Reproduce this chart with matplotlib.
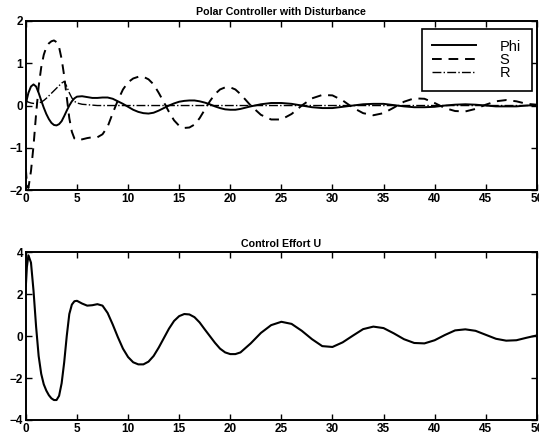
import numpy as np
import matplotlib
matplotlib.use('Agg')
from matplotlib import pyplot as plt

plt.rcParams['font.family'] = ['Liberation Sans', 'DejaVu Sans']

# time samples
t = [0, 0.1, 0.25, 0.5, 0.75, 1.0, 1.25, 1.5, 1.75, 2.0, 2.25, 2.5, 2.75, 3.0, 3.25,
     3.5, 3.75, 4.0, 4.25, 4.5, 4.75, 5.0, 5.5, 6.0, 6.5, 7.0, 7.5, 8.0, 8.5, 9.0,
     9.5, 10, 10.5, 11, 11.5, 12, 12.5, 13, 13.5, 14, 14.5, 15, 15.5, 16, 16.5, 17,
     17.5, 18, 18.5, 19, 19.5, 20, 20.5, 21, 22, 23, 24, 25, 26, 27, 28, 29, 30, 31,
     32, 33, 34, 35, 36, 37, 38, 39, 40, 41, 42, 43, 44, 45, 46, 47, 48, 49, 50]

phi = [0.0, 0.15, 0.3, 0.45, 0.5, 0.45, 0.3, 0.12, -0.05, -0.2, -0.32, -0.41, -0.46, -0.47, -0.44,
       -0.37, -0.25, -0.12, 0.0, 0.1, 0.17, 0.21, 0.22, 0.2, 0.18, 0.18, 0.19, 0.19, 0.16, 0.1,
       0.04, -0.03, -0.1, -0.15, -0.18, -0.19, -0.17, -0.12, -0.06, 0.0, 0.05, 0.09, 0.11, 0.12, 0.12, 0.1,
       0.07, 0.03, -0.02, -0.06, -0.09, -0.1, -0.1, -0.08, -0.02, 0.03, 0.06, 0.06, 0.04, 0.0, -0.04, -0.06, -0.06, -0.03,
       0.0, 0.03, 0.04, 0.04, 0.01, -0.02, -0.04, -0.04, -0.03, 0.0, 0.02, 0.03, 0.02, 0.0, -0.02, -0.02, -0.02, 0.0, 0.01]

S = [-1.5, -1.85, -1.95, -1.55, -0.95, -0.2, 0.45, 0.9, 1.2, 1.38, 1.47, 1.52, 1.54, 1.5, 1.38,
     1.1, 0.7, 0.2, -0.3, -0.62, -0.78, -0.82, -0.8, -0.77, -0.75, -0.75, -0.68, -0.5, -0.18, 0.12,
     0.38, 0.55, 0.64, 0.68, 0.68, 0.62, 0.5, 0.3, 0.08, -0.15, -0.35, -0.48, -0.53, -0.52, -0.45, -0.3,
     -0.1, 0.1, 0.27, 0.38, 0.43, 0.43, 0.38, 0.27, 0.0, -0.22, -0.33, -0.33, -0.2, 0.0, 0.17, 0.25, 0.24, 0.12,
     -0.05, -0.18, -0.23, -0.18, -0.05, 0.09, 0.17, 0.16, 0.06, -0.06, -0.13, -0.14, -0.08, 0.02, 0.1, 0.13, 0.1, 0.04, 0.02]

R = [0.12, 0.1, 0.08, 0.06, 0.05, 0.05, 0.06, 0.08, 0.12, 0.17, 0.23, 0.29, 0.35, 0.41, 0.47,
     0.53, 0.57, 0.45, 0.3, 0.18, 0.1, 0.06, 0.03, 0.02, 0.01, 0.0, 0.0, 0.0, 0.0, 0.0,
     0.0, 0.0, 0.0, 0.0, 0.0, 0.0, 0.0, 0.0, 0.0, 0.0, 0.0, 0.0, 0.0, 0.0, 0.0, 0.0,
     0.0, 0.0, 0.0, 0.0, 0.0, 0.0, 0.0, 0.0, 0.0, 0.0, 0.0, 0.0, 0.0, 0.0, 0.0, 0.0, 0.0, 0.0,
     0.0, 0.0, 0.0, 0.0, 0.0, 0.0, 0.0, 0.0, 0.0, 0.0, 0.0, 0.0, 0.0, 0.0, 0.0, 0.0, 0.0, 0.0, 0.0]

U = [2.4, 3.3, 3.85, 3.5, 2.15, 0.45, -0.95, -1.8, -2.3, -2.6, -2.82, -2.97, -3.05, -3.05, -2.85,
     -2.25, -1.25, 0.0, 1.05, 1.5, 1.66, 1.68, 1.55, 1.45, 1.47, 1.52, 1.45, 1.1, 0.55, -0.05,
     -0.6, -1.0, -1.25, -1.35, -1.35, -1.22, -0.95, -0.55, -0.1, 0.35, 0.72, 0.95, 1.05, 1.03, 0.9, 0.65,
     0.32, 0.0, -0.32, -0.6, -0.78, -0.86, -0.86, -0.78, -0.35, 0.15, 0.52, 0.68, 0.58, 0.25, -0.15, -0.48, -0.52, -0.3,
     0.02, 0.33, 0.45, 0.38, 0.13, -0.15, -0.33, -0.35, -0.2, 0.05, 0.27, 0.32, 0.25, 0.06, -0.13, -0.22, -0.2, -0.08, 0.03]

xticks = [0, 5, 10, 15, 20, 25, 30, 35, 40, 45, 50]

fig = plt.figure(figsize=(5.39, 4.37), dpi=100)
ax1 = fig.add_axes([0.048, 0.565, 0.948, 0.387])
ax2 = fig.add_axes([0.048, 0.039, 0.948, 0.384])

ax1.plot(t, phi, 'k-', lw=1.4, label='Phi')
ax1.plot(t, S, 'k--', lw=1.4, dashes=(5, 3.5), label='S')
ax1.plot(t, R, 'k-.', lw=1.0, label='R')
ax1.set_ylim(-2, 2)
ax1.set_yticks([-2, -1, 0, 1, 2])
ax1.set_title('Polar Controller with Disturbance', fontsize=7.7, fontweight='bold', pad=4)
leg = ax1.legend(loc='upper right', bbox_to_anchor=(0.99, 0.955), fontsize=10.5,
                 fancybox=False, framealpha=1, edgecolor='k', handlelength=3.0,
                 handletextpad=1.6, labelspacing=-0.05, borderpad=0.75,
                 borderaxespad=0.0)
leg.get_frame().set_linewidth(1.2)

ax2.plot(t, U, 'k-', lw=1.5)
ax2.set_ylim(-4, 4)
ax2.set_yticks([-4, -2, 0, 2, 4])
ax2.set_title('Control Effort U', fontsize=7.7, fontweight='bold', pad=4)

for ax in (ax1, ax2):
    ax.set_xlim(0, 50)
    ax.set_xticks(xticks)
    ax.tick_params(direction='in', top=True, right=True, length=4, width=1,
                   labelsize=8.5, pad=2)
    for lab in ax.get_xticklabels() + ax.get_yticklabels():
        lab.set_fontweight('bold')
    for sp in ax.spines.values():
        sp.set_linewidth(1.4)

fig.savefig('out.png', dpi=100)
